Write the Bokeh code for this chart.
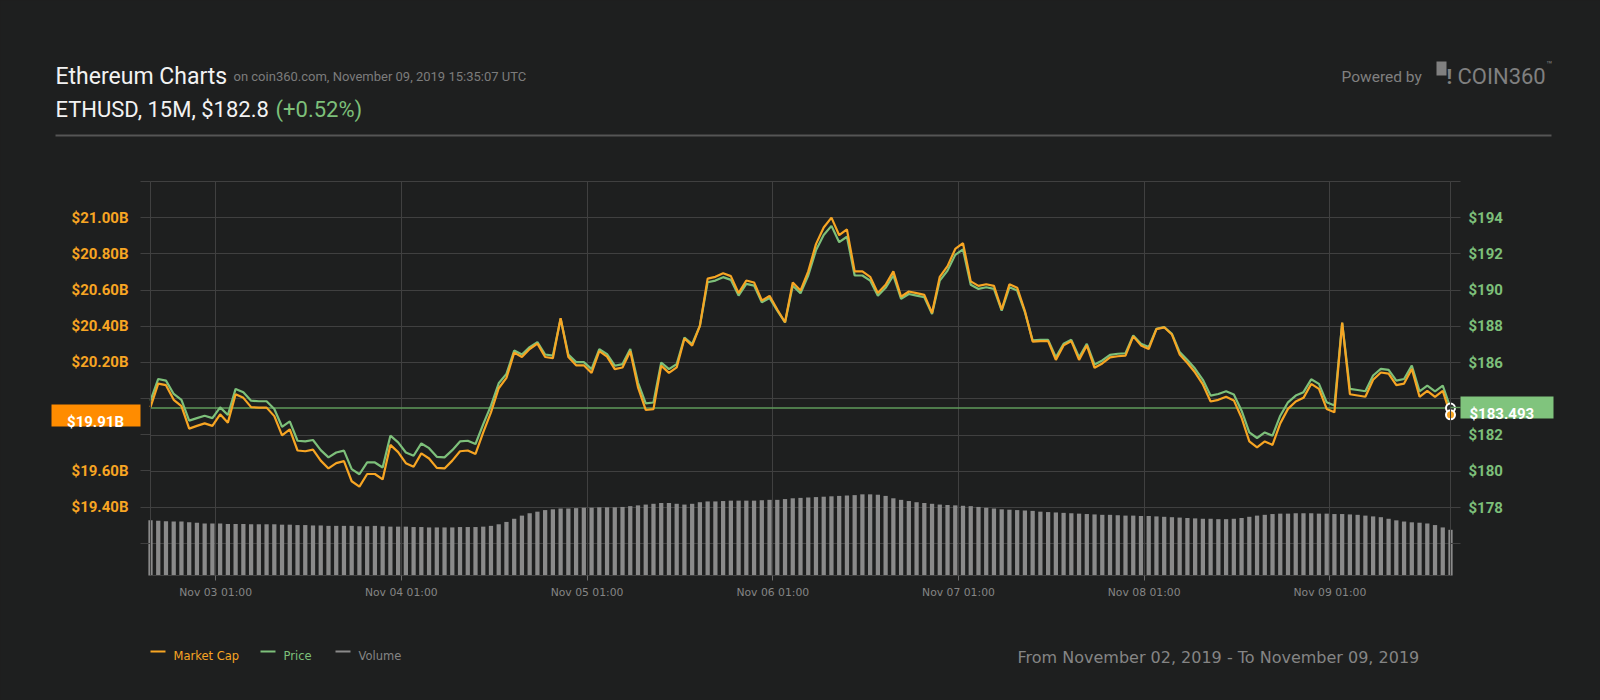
import pandas as pd
from bokeh.plotting import figure
from bokeh.models import (Range1d, LinearAxis, FixedTicker, Label, BoxAnnotation,
                          CustomJSTickFormatter, Grid)
from bokeh.embed import file_html
from bokeh.resources import INLINE

# ---------------- data (hourly, local time UTC+1) ----------------
start_time = "2019-11-02 16:35"

price = [
    183.90, 185.10, 185.01, 184.27, 183.94, 182.80, 182.94, 183.07, 182.94, 183.53,
    183.11, 184.55, 184.37, 183.90, 183.87, 183.87, 183.44, 182.46, 182.76, 181.69,
    181.65, 181.73, 181.17, 180.77, 181.04, 181.14, 180.12, 179.84, 180.49, 180.49,
    180.21, 181.97, 181.60, 181.04, 180.86, 181.54, 181.28, 180.80, 180.77, 181.17,
    181.65, 181.69, 181.51, 182.61, 183.63, 184.86, 185.38, 186.67, 186.45, 186.86,
    187.13, 186.45, 186.39, 188.42, 186.45, 186.03, 186.03, 185.64, 186.75, 186.47,
    185.83, 185.92, 186.75, 184.90, 183.75, 183.80, 186.01, 185.64, 185.92, 187.39,
    187.03, 188.04, 190.44, 190.53, 190.72, 190.57, 189.70, 190.35, 190.25, 189.33,
    189.57, 188.87, 188.22, 190.25, 189.83, 190.81, 192.20, 193.05, 193.55, 192.65,
    192.95, 190.81, 190.81, 190.53, 189.70, 190.13, 190.81, 189.52, 189.79, 189.70,
    189.61, 188.69, 190.53, 191.08, 191.95, 192.25, 190.30, 190.07, 190.16, 190.07,
    188.87, 190.16, 189.98, 188.79, 187.23, 187.26, 187.26, 186.30, 187.04, 187.26,
    186.30, 187.04, 185.90, 186.12, 186.43, 186.49, 186.52, 187.50, 187.04, 186.86,
    187.87, 187.96, 187.59, 186.58, 186.15, 185.66, 185.05, 184.18, 184.27, 184.42,
    184.24, 183.35, 182.15, 181.84, 182.15, 181.97, 183.07, 183.81, 184.18, 184.37,
    185.08, 184.83, 183.81, 183.63, 188.20, 184.55, 184.49, 184.42, 185.29, 185.66,
    185.60, 185.01, 185.10, 185.84, 184.42, 184.73, 184.42, 184.73, 183.49,
]

market_cap_b = [
    19.953, 20.083, 20.074, 19.993, 19.958, 19.834, 19.849, 19.863, 19.849, 19.913,
    19.867, 20.024, 20.004, 19.953, 19.950, 19.950, 19.903, 19.797, 19.830, 19.713,
    19.709, 19.718, 19.657, 19.614, 19.643, 19.654, 19.543, 19.513, 19.583, 19.583,
    19.553, 19.744, 19.704, 19.643, 19.623, 19.697, 19.669, 19.617, 19.614, 19.657,
    19.709, 19.713, 19.694, 19.813, 19.924, 20.057, 20.114, 20.254, 20.230, 20.274,
    20.304, 20.230, 20.223, 20.444, 20.230, 20.184, 20.184, 20.142, 20.262, 20.232,
    20.163, 20.172, 20.262, 20.062, 19.937, 19.942, 20.182, 20.142, 20.172, 20.332,
    20.293, 20.402, 20.663, 20.673, 20.693, 20.677, 20.583, 20.653, 20.642, 20.542,
    20.568, 20.492, 20.422, 20.642, 20.597, 20.703, 20.854, 20.946, 21.000, 20.903,
    20.935, 20.703, 20.703, 20.673, 20.583, 20.629, 20.703, 20.563, 20.592, 20.583,
    20.573, 20.473, 20.673, 20.732, 20.827, 20.859, 20.648, 20.623, 20.632, 20.623,
    20.492, 20.632, 20.613, 20.484, 20.315, 20.318, 20.318, 20.214, 20.294, 20.318,
    20.214, 20.294, 20.170, 20.194, 20.228, 20.234, 20.237, 20.344, 20.294, 20.274,
    20.384, 20.394, 20.354, 20.244, 20.197, 20.144, 20.078, 19.984, 19.993, 20.010,
    19.990, 19.894, 19.763, 19.730, 19.763, 19.744, 19.863, 19.943, 19.984, 20.004,
    20.081, 20.054, 19.943, 19.924, 20.420, 20.024, 20.017, 20.010, 20.104, 20.144,
    20.138, 20.074, 20.083, 20.164, 20.010, 20.043, 20.010, 20.043, 19.910,
]

volume_b = [
    7.0, 6.95, 6.9, 6.85, 6.85, 6.75, 6.7, 6.6, 6.6, 6.6,
    6.55, 6.55, 6.55, 6.5, 6.5, 6.5, 6.5, 6.45, 6.45, 6.4,
    6.4, 6.35, 6.35, 6.3, 6.3, 6.3, 6.3, 6.25, 6.25, 6.3,
    6.25, 6.2, 6.2, 6.2, 6.15, 6.15, 6.1, 6.1, 6.1, 6.1,
    6.15, 6.15, 6.15, 6.2, 6.3, 6.5, 6.8, 7.2, 7.6, 7.9,
    8.1, 8.3, 8.4, 8.5, 8.5, 8.55, 8.6, 8.6, 8.65, 8.65,
    8.65, 8.7, 8.8, 8.9, 9.0, 9.1, 9.2, 9.2, 9.1, 9.0,
    9.1, 9.3, 9.4, 9.4, 9.45, 9.5, 9.5, 9.5, 9.5, 9.55,
    9.6, 9.6, 9.7, 9.8, 9.85, 9.9, 9.95, 10.0, 10.05, 10.1,
    10.15, 10.2, 10.3, 10.3, 10.25, 10.1, 9.8, 9.6, 9.45, 9.3,
    9.2, 9.1, 9.0, 8.95, 8.9, 8.85, 8.8, 8.7, 8.6, 8.5,
    8.4, 8.35, 8.3, 8.25, 8.2, 8.1, 8.05, 8.0, 7.95, 7.9,
    7.85, 7.8, 7.75, 7.7, 7.7, 7.65, 7.6, 7.6, 7.55, 7.55,
    7.5, 7.45, 7.4, 7.35, 7.3, 7.25, 7.2, 7.2, 7.15, 7.15,
    7.2, 7.3, 7.45, 7.6, 7.7, 7.8, 7.85, 7.85, 7.9, 7.9,
    7.9, 7.85, 7.85, 7.8, 7.8, 7.75, 7.7, 7.6, 7.5, 7.4,
    7.2, 7.0, 6.85, 6.75, 6.7, 6.6, 6.4, 6.1, 5.8,
]

x_tick_times = ["2019-11-03 01:00", "2019-11-04 01:00", "2019-11-05 01:00",
                "2019-11-06 01:00", "2019-11-07 01:00", "2019-11-08 01:00",
                "2019-11-09 01:00"]
price_ticks = [176, 178, 180, 182, 184, 186, 188, 190, 192, 194, 196]
mcap_ticks = [19.2, 19.4, 19.6, 19.8, 20.0, 20.2, 20.4, 20.6, 20.8, 21.0, 21.2]
price_lim = (174.25, 196.0)
mcap_lim = (19.022, 21.2)
vol_lim = (0.0, 50.0)

last_price_label = "$183.493"
last_price_value = 183.493
last_mcap_label = "$19.91B"

# ---------------- layout / styling ----------------
W, H = 1600, 700
PL, PR, PT, PB = 150, 1450, 181, 575   # chart rectangle in page pixels
BG = "#1e1f1f"
ORANGE = "#f7a523"
GREEN = "#7dc07a"
GRID = "#404040"
GRAY = "#858585"

times = pd.date_range(start_time, periods=len(price), freq="h")
t0 = times[0].value / 1e6
t1 = times[-1].value / 1e6
mpp = (t1 - t0) / (PR - PL)
xt = [pd.Timestamp(t).value / 1e6 for t in x_tick_times]


def span_range(lo, hi):
    per_px = (hi - lo) / (PB - PT)
    return Range1d(lo - (H - PB) * per_px, hi + PT * per_px)


p = figure(width=W, height=H, x_range=Range1d(t0 - PL * mpp, t1 + (W - PR) * mpp),
           y_range=span_range(*price_lim), x_axis_location=None, y_axis_location=None,
           output_backend="svg", toolbar_location=None,
           min_border_left=0, min_border_right=0, min_border_top=0, min_border_bottom=0,
           background_fill_color=BG, border_fill_color=BG, outline_line_color=None)
p.extra_y_ranges = {"mcap": span_range(*mcap_lim), "vol": span_range(*vol_lim)}
# drop the default full-canvas grids
p.center = [c for c in p.center if not isinstance(c, Grid)]

# ---- axes (fixed at the chart rectangle edges) ----
price_ticker = FixedTicker(ticks=price_ticks)
ra = LinearAxis(ticker=price_ticker, fixed_location=t1, bounds=price_lim)
ra.formatter = CustomJSTickFormatter(code="""
    const hide = [176, 184, 196];
    for (const h of hide) { if (Math.abs(tick - h) < 1e-6) return ""; }
    return "$" + tick.toFixed(0);
""")
la = LinearAxis(y_range_name="mcap", ticker=FixedTicker(ticks=mcap_ticks),
                fixed_location=t0, bounds=mcap_lim)
la.formatter = CustomJSTickFormatter(code="""
    const hide = [19.2, 19.8, 20.0, 21.2];
    for (const h of hide) { if (Math.abs(tick - h) < 1e-6) return ""; }
    return "$" + tick.toFixed(2) + "B";
""")
for ax, col, standoff in ((ra, GREEN, 8), (la, ORANGE, 12)):
    ax.axis_line_color = GRID
    ax.major_tick_out = 10
    ax.major_tick_in = 0
    ax.major_tick_line_color = GRID
    ax.minor_tick_line_color = None
    ax.major_label_text_color = col
    ax.major_label_text_font = "Roboto"
    ax.major_label_text_font_style = "bold"
    ax.major_label_text_font_size = "15px"
    ax.major_label_standoff = standoff
p.add_layout(ra, "right")
p.add_layout(la, "left")

x_ticker = FixedTicker(ticks=xt)
xa = LinearAxis(ticker=x_ticker, fixed_location=price_lim[0], bounds=(t0, t1))
xa.formatter = CustomJSTickFormatter(code="""
    const d = new Date(tick);
    const m = ["Jan","Feb","Mar","Apr","May","Jun","Jul","Aug","Sep","Oct","Nov","Dec"][d.getUTCMonth()];
    const pad = (v) => (v < 10 ? "0" : "") + v;
    return m + " " + pad(d.getUTCDate()) + " " + pad(d.getUTCHours()) + ":" + pad(d.getUTCMinutes());
""")
xa.axis_line_color = GRID
xa.major_tick_out = 5
xa.major_tick_in = 0
xa.major_tick_line_color = "#6a6a6a"
xa.minor_tick_line_color = None
xa.major_label_text_color = GRAY
xa.major_label_text_font = "DejaVu Sans"
xa.major_label_text_font_size = "10.8px"
xa.major_label_standoff = 5
p.add_layout(xa, "below")

# ---- grid lines limited to the chart rectangle ----
gx = Grid(dimension=0, ticker=x_ticker, grid_line_color=GRID)
gy = Grid(dimension=1, ticker=price_ticker, grid_line_color=GRID)
if "cross_bounds" in gx.properties():
    gx.cross_bounds = price_lim
    gy.cross_bounds = (t0, t1)
    p.add_layout(gx)
    p.add_layout(gy)
else:
    p.segment(x0=xt, x1=xt, y0=[price_lim[0]] * len(xt), y1=[price_lim[1]] * len(xt),
              line_color=GRID, line_width=1)
    p.segment(x0=[t0] * len(price_ticks), x1=[t1] * len(price_ticks),
              y0=price_ticks, y1=price_ticks, line_color=GRID, line_width=1)

# ---------------- glyphs ----------------
p.vbar(x=times, top=volume_b, bottom=0, width=0.55 * 3600 * 1000,
       y_range_name="vol", fill_color="#8a8a8a", line_color=None)
p.line([times[0], times[-1]], [last_price_value, last_price_value],
       line_color="#5f9b5b", line_width=1.5)
p.line(times, price, line_color=GREEN, line_width=2.2)
p.line(times, market_cap_b, y_range_name="mcap", line_color=ORANGE, line_width=2.2)
p.scatter([times[-1]], [price[-1]], size=9, fill_color="#2b2c2c",
          line_color="white", line_width=2)
p.scatter([times[-1]], [market_cap_b[-1]], size=9, y_range_name="mcap",
          fill_color=ORANGE, line_color="white", line_width=2)


# ---------------- annotations (screen px; y measured from top of page) ----------------
def lab(x, y, text, size, color, font="Roboto", style="normal", align="left",
        baseline="alphabetic"):
    p.add_layout(Label(x=x, y=H - y, x_units="screen", y_units="screen", text=text,
                       text_font=font, text_font_size=size, text_color=color,
                       text_font_style=style, text_align=align,
                       text_baseline=baseline))


def box(l, r, t, b, color):
    p.add_layout(BoxAnnotation(left=l, right=r, bottom=H - b, top=H - t,
                               left_units="screen", right_units="screen",
                               bottom_units="screen", top_units="screen",
                               fill_color=color, fill_alpha=1.0, line_color=None))


lab(55, 76, "Ethereum Charts", "23px", "#f2f2f2")
lab(233, 76, "on coin360.com, November 09, 2019 15:35:07 UTC", "13px", "#7c7c7c")
lab(55, 109, "ETHUSD, 15M, $182.8", "22px", "#f2f2f2")
lab(275, 109, "(+0.52%)", "22px", GREEN)
box(55, 1551, 134, 136, "#555555")

lab(1341, 76, "Powered by", "15.5px", "#808080")
box(1436, 1446, 61, 75, "#808080")
lab(1446, 76, "!", "21px", "#808080", style="bold")
lab(1457, 76, "COIN360", "22px", "#808080")
lab(1546, 58, "\u2122", "10px", "#808080", baseline="top")

# current value boxes
box(51, 140, 404, 426, "#ff8c00")
lab(95, 421, last_mcap_label, "15px", "#ffffff", style="bold", align="center")
box(1450, 1460, 406.3, 407.7, "#5f9b5b")
box(1460, 1553, 396, 418, "#80c47d")
lab(1469, 413, last_price_label, "15px", "#ffffff", style="bold")

# legend
box(150, 165, 650, 652, ORANGE)
lab(173, 655, "Market Cap", "11.5px", ORANGE, font="DejaVu Sans")
box(260, 275, 650, 652, GREEN)
lab(283, 655, "Price", "11.5px", GREEN, font="DejaVu Sans")
box(335, 350, 650, 652, "#8a8a8a")
lab(358, 655, "Volume", "11.5px", GRAY, font="DejaVu Sans")

lab(1017, 657, "From November 02, 2019 - To November 09, 2019", "16px", GRAY,
    font="DejaVu Sans")

html = file_html(p, INLINE)
html = html.replace("</head>",
                    "<style>html,body{background:#1e1f1f;margin:0;}</style></head>")
open("out.html", "w").write(html)
